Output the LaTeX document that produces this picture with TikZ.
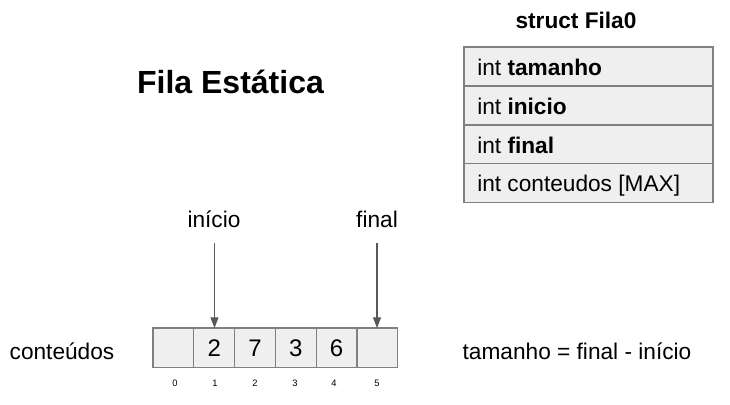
\documentclass[tikz,border=0pt]{standalone}
\usepackage{fontspec}
\setmainfont{Liberation Sans}
\usetikzlibrary{arrows.meta}
\definecolor{cellfill}{HTML}{EFEFEF}
\definecolor{cellline}{HTML}{808080}
\definecolor{arrowcol}{HTML}{595959}
\begin{document}
\begin{tikzpicture}[x=0.75pt,y=-0.75pt,
  cellbox/.style={draw=cellline,fill=cellfill,line width=0.8pt,minimum width=30.6pt,minimum height=29.5pt,inner sep=0pt,outer sep=0pt,anchor=north west,font=\fontsize{18}{20}\selectfont},
  rowbox/.style={draw=cellline,fill=cellfill,line width=0.8pt,minimum width=186.75pt,minimum height=29.1pt,inner sep=0pt,outer sep=0pt,anchor=north west},
  lbl/.style={font=\fontsize{17}{19}\selectfont,inner sep=0pt,anchor=base},
  idx/.style={font=\fontsize{7}{8}\selectfont,inner sep=0pt},
  ptr/.style={draw=arrowcol,line width=0.8pt,-{Triangle[length=8pt,width=6pt]}}]
\useasboundingbox (0,0) rectangle (730,404);
% title
\node[font=\bfseries\fontsize{24}{26}\selectfont,inner sep=0pt,anchor=base] (title) at (230.5,93) {Fila Estática};
% struct
\node[font=\bfseries\fontsize{17}{19}\selectfont,inner sep=0pt,anchor=base] (stitle) at (576,28) {struct Fila0};
\node[rowbox] (r1) at (464,47) {};
\node[rowbox] (r2) at (464,86) {};
\node[rowbox] (r3) at (464,125) {};
\node[rowbox] (r4) at (464,163.5) {};
\node[lbl,anchor=base west] (t1) at (477,75) {int \textbf{tamanho}};
\node[lbl,anchor=base west] (t2) at (477,114) {int \textbf{inicio}};
\node[lbl,anchor=base west] (t3) at (477,153) {int \textbf{final}};
\node[lbl,anchor=base west] (t4) at (477,191) {int conteudos [MAX]};
% array
\node[cellbox] (c0) at (153,328) {};
\node[cellbox] (c1) at (193.8,328) {};
\node[cellbox] (c2) at (234.6,328) {};
\node[cellbox] (c3) at (275.4,328) {};
\node[cellbox] (c4) at (316.2,328) {};
\node[cellbox] (c5) at (357,328) {};
\node[lbl,font=\fontsize{18}{20}\selectfont] (v1) at ([yshift=-6.3pt]c1.center) {2};
\node[lbl,font=\fontsize{18}{20}\selectfont] (v2) at ([yshift=-6.3pt]c2.center) {7};
\node[lbl,font=\fontsize{18}{20}\selectfont] (v3) at ([yshift=-6.3pt]c3.center) {3};
\node[lbl,font=\fontsize{18}{20}\selectfont] (v4) at ([yshift=-6.3pt]c4.center) {6};
% indices
\node[idx] (i0) at (175,383) {0};
\node[idx] (i1) at (215,383) {1};
\node[idx] (i2) at (255,383) {2};
\node[idx] (i3) at (295,383) {3};
\node[idx] (i4) at (334,383) {4};
\node[idx] (i5) at (377,383) {5};
% labels
\node[lbl] (cont) at (62,359) {conteúdos};
\node[lbl] (tam) at (577,359) {tamanho = final - início};
\node[lbl] (ini) at (214,227) {início};
\node[lbl] (fin) at (377,227) {final};
% pointers
\coordinate (a1) at (214.5,243);
\coordinate (a2) at (377,243);
\draw[ptr] (a1) -- (a1 |- c1.north);
\draw[ptr] (a2) -- (a2 |- c5.north);
\end{tikzpicture}
\end{document}
